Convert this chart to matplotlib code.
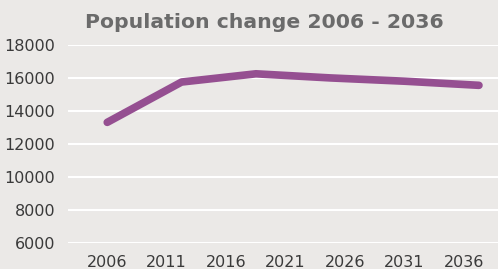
import matplotlib.pyplot as plt

# data
years = [2006, 2011, 2016, 2021, 2026, 2031, 2036]
line_years = [2006, 2012.25, 2018.5, 2024.75, 2031, 2037.25]
population = [13300, 15750, 16250, 16000, 15800, 15550]
y_ticks = [6000, 8000, 10000, 12000, 14000, 16000, 18000]

bg = "#ebe9e7"
purple = "#954f91"

fig = plt.figure(figsize=(4.98, 2.69), dpi=100, facecolor=bg)
ax = fig.add_axes([0.1365, 0.0985, 0.8635, 0.7342], facecolor=bg)

ax.plot(line_years, population, color=purple, lw=5.5, solid_capstyle="round",
        solid_joinstyle="round", zorder=3)

ax.set_ylim(6000, 18000)
ax.set_yticks(y_ticks)
ax.set_xticks(years)
ax.set_xticklabels([str(y) for y in years])
# category spacing: 5 years ~ 59.5 px
ax.set_xlim(2006 - 0.66 * 5, 2006 + 6.57 * 5)

ax.grid(axis="y", color="white", lw=1.5, zorder=1)
ax.grid(axis="x", visible=False)
for s in ax.spines.values():
    s.set_visible(False)
ax.tick_params(axis="both", length=0, labelsize=11.5, colors="#3a3a3a")
ax.tick_params(axis="y", pad=9)
ax.tick_params(axis="x", pad=9)

fig.text(0.53, 0.915, "Population change 2006 - 2036", ha="center", va="center",
         fontsize=14.7, fontweight="bold", color="#6b6b6b")

fig.savefig("out.png", dpi=100, facecolor=bg)
